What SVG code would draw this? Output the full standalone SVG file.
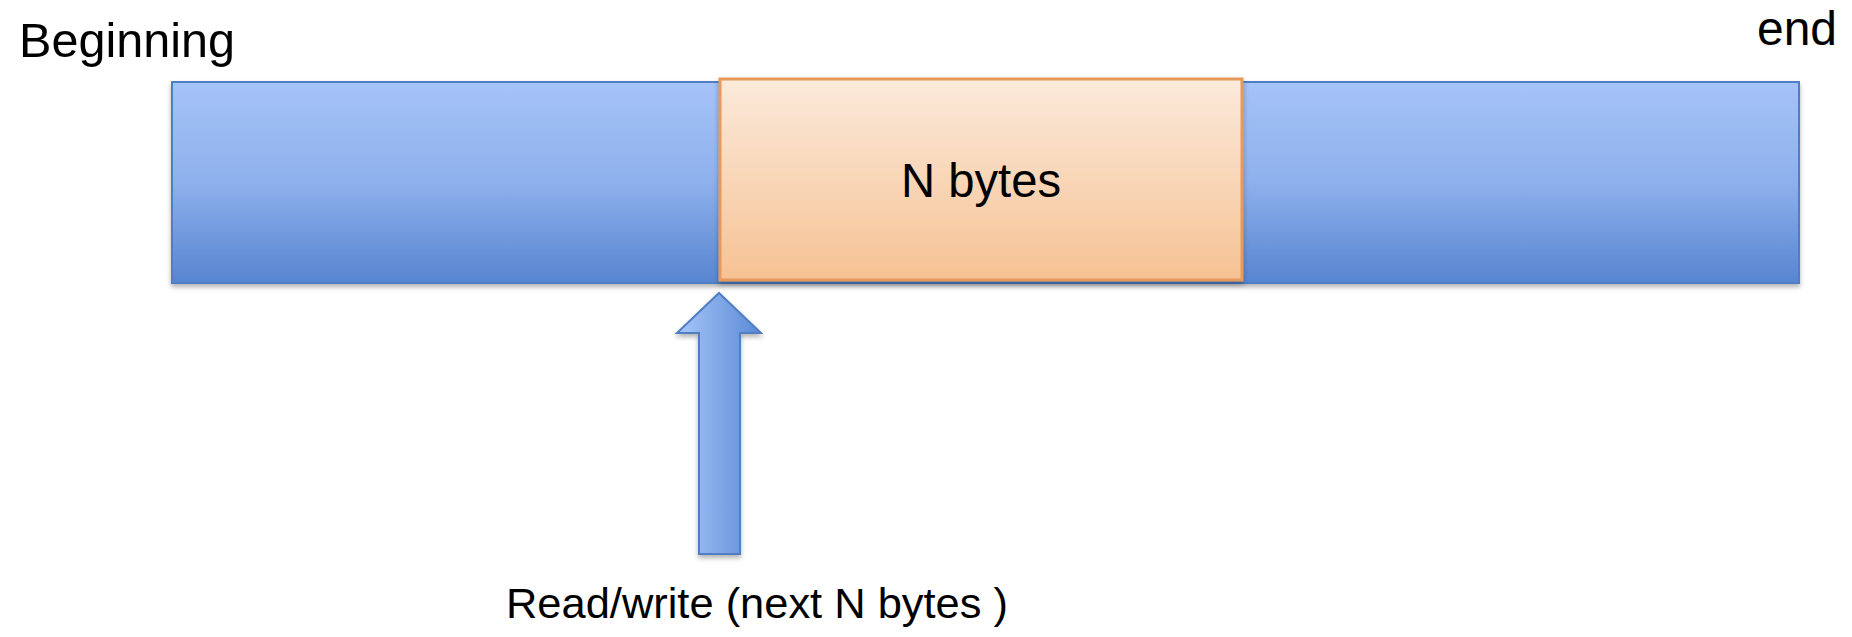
<svg xmlns="http://www.w3.org/2000/svg" width="1852" height="637" viewBox="0 0 1852 637">
  <style>
    .label { font-family: "Liberation Sans", Arial, sans-serif; fill: #000; }
    .big { font-size: 48px; }
    .small { font-size: 42px; }
  </style>
  <defs>
    <linearGradient id="blueFill" x1="0" y1="0" x2="0" y2="1">
      <stop offset="0" stop-color="#a5c3f8"/>
      <stop offset="0.5" stop-color="#8eb0ec"/>
      <stop offset="1" stop-color="#5785d0"/>
    </linearGradient>
    <linearGradient id="orangeFill" x1="0" y1="0" x2="0" y2="1">
      <stop offset="0" stop-color="#fbeadb"/>
      <stop offset="1" stop-color="#f6c294"/>
    </linearGradient>
    <linearGradient id="arrowFill" x1="0" y1="0" x2="1" y2="0">
      <stop offset="0" stop-color="#a8c6fa"/>
      <stop offset="1" stop-color="#5a89d4"/>
    </linearGradient>
    <filter id="shadow" x="-5%" y="-10%" width="110%" height="130%">
      <feDropShadow dx="0" dy="3" stdDeviation="2.5" flood-color="#000" flood-opacity="0.3"/>
    </filter>
  </defs>

  <text class="label big" x="19" y="57" textLength="216" lengthAdjust="spacingAndGlyphs">Beginning</text>
  <text class="label big" x="1757" y="45" textLength="80" lengthAdjust="spacingAndGlyphs">end</text>

  <g id="buffer">
    <rect x="172" y="82" width="1627" height="201" fill="url(#blueFill)" stroke="#4f7ec4" stroke-width="2" filter="url(#shadow)"/>
  </g>

  <g id="chunk">
    <rect x="720" y="79" width="522" height="201" fill="url(#orangeFill)" stroke="#e6995a" stroke-width="3" filter="url(#shadow)"/>
    <text class="label big" x="981" y="197" text-anchor="middle" textLength="160" lengthAdjust="spacingAndGlyphs">N bytes</text>
  </g>

  <g id="connectors">
    <polygon points="719,293 761,333 740,333 740,554 699,554 699,333 677,333" fill="url(#arrowFill)" stroke="#4f7ec4" stroke-width="2" stroke-linejoin="miter" filter="url(#shadow)"/>
  </g>

  <g id="pointer-label">
    <text class="label small" x="506" y="618" textLength="502" lengthAdjust="spacingAndGlyphs">Read/write (next N bytes )</text>
  </g>
</svg>
